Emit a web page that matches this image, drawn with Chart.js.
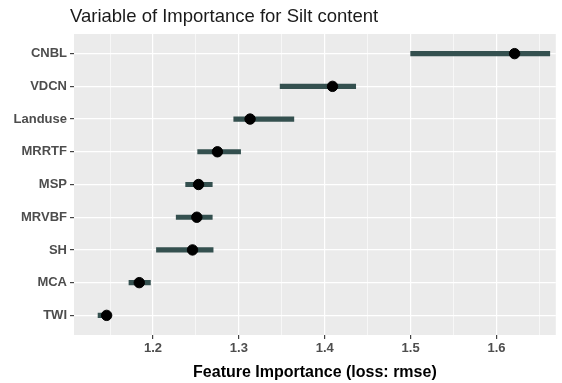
<!DOCTYPE html>
<html>
<head>
<meta charset="utf-8">
<script src="https://cdn.jsdelivr.net/npm/chart.js@4/dist/chart.umd.min.js"></script>
<style>
  html, body { margin: 0; padding: 0; background: #fff; }
  #wrap { width: 562px; height: 383px; }
</style>
</head>
<body>
<div id="wrap"><canvas id="vipChart"></canvas></div>
<script>
// feature importance (loss: rmse), top to bottom
const features = ['CNBL', 'VDCN', 'Landuse', 'MRRTF', 'MSP', 'MRVBF', 'SH', 'MCA', 'TWI'];
const importance = [1.621, 1.409, 1.313, 1.275, 1.253, 1.251, 1.246, 1.184, 1.146];
const lower = [1.500, 1.348, 1.294, 1.252, 1.238, 1.227, 1.204, 1.172, 1.136];
const upper = [1.662, 1.436, 1.364, 1.302, 1.269, 1.269, 1.270, 1.197, 1.150];

const majorTicks = [1.2, 1.3, 1.4, 1.5, 1.6];
const minorTicks = [1.15, 1.25, 1.35, 1.45, 1.55, 1.65];

const titleText = 'Variable of Importance for Silt content';
const xTitle = 'Feature Importance (loss: rmse)';

const isMajor = v => majorTicks.some(m => Math.abs(m - v) < 1e-6);

// grey panel + title like ggplot
const panelBg = {
    id: 'panelBg',
    beforeDraw(chart) {
        const { ctx, chartArea: a } = chart;
        ctx.save();
        ctx.fillStyle = '#EBEBEB';
        ctx.fillRect(a.left, a.top, a.right - a.left, a.bottom - a.top);
        ctx.fillStyle = '#1a1a1a';
        ctx.font = '18.5px "Liberation Sans", Arial, sans-serif';
        ctx.textBaseline = 'middle';
        ctx.fillText(titleText, a.left - 4, 17);
        ctx.restore();
    }
};

const ctx = document.getElementById('vipChart').getContext('2d');
const vipChart = new Chart(ctx, {
    type: 'bar',
    data: {
        datasets: [
            {
                type: 'bar',
                data: features.map((f, i) => ({ x: [lower[i], upper[i]], y: i })),
                backgroundColor: '#34504F',
                barThickness: 4.5,
                order: 2
            },
            {
                type: 'scatter',
                data: features.map((f, i) => ({ x: importance[i], y: i })),
                backgroundColor: '#000',
                borderColor: '#000',
                pointRadius: 5.2,
                order: 1
            }
        ]
    },
    plugins: [panelBg],
    options: {
        responsive: true,
        maintainAspectRatio: false,
        animation: false,
        indexAxis: 'y',
        layout: { padding: { top: 34, right: 4, left: 0, bottom: 0 } },
        plugins: {
            legend: { display: false },
            tooltip: { enabled: false }
        },
        scales: {
            x: {
                type: 'linear',
                min: 1.108,
                max: 1.669,
                afterBuildTicks: s => { s.ticks = minorTicks.concat(majorTicks).sort().map(v => ({ value: v })); },
                afterFit: s => { s.height = 48; },
                border: { display: false },
                grid: {
                    color: '#fff',
                    lineWidth: c => isMajor(c.tick.value) ? 1.2 : 0.6,
                    tickColor: c => isMajor(c.tick.value) ? '#444' : 'rgba(0,0,0,0)',
                    tickLength: 4
                },
                ticks: {
                    autoSkip: false,
                    maxRotation: 0,
                    padding: 2,
                    color: '#4D4D4D',
                    font: { family: '"Liberation Sans", Arial, sans-serif', size: 13, weight: 'bold' },
                    callback: v => isMajor(v) ? v.toFixed(1) : ''
                },
                title: {
                    display: true,
                    text: xTitle,
                    color: '#000',
                    padding: { top: 0, bottom: 1 },
                    font: { family: '"Liberation Sans", Arial, sans-serif', size: 16, weight: 'bold' }
                }
            },
            y: {
                type: 'linear',
                reverse: true,
                offset: false,
                min: -0.6,
                max: 8.6,
                afterBuildTicks: s => { s.ticks = features.map((f, i) => ({ value: i })); },
                afterFit: s => { s.width = 74; },
                border: { display: false },
                grid: {
                    offset: false,
                    color: '#fff',
                    lineWidth: 1.2,
                    tickColor: '#444',
                    tickLength: 4
                },
                ticks: {
                    autoSkip: false,
                    padding: 3,
                    color: '#4D4D4D',
                    font: { family: '"Liberation Sans", Arial, sans-serif', size: 13, weight: 'bold' },
                    callback: v => features[v]
                }
            }
        }
    }
});
</script>
</body>
</html>
